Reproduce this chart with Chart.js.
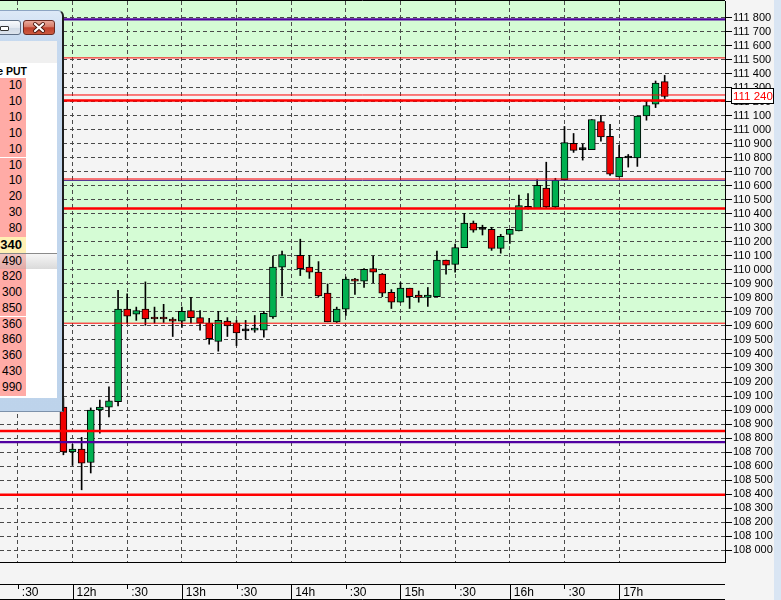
<!DOCTYPE html>
<html><head><meta charset="utf-8">
<script src="https://cdn.jsdelivr.net/npm/chart.js@4.4.0/dist/chart.umd.min.js"></script>
<style>
html,body{margin:0;padding:0;background:#f4f4f4;overflow:hidden;}
#wrap{position:relative;width:781px;height:600px;}
#c{position:absolute;left:0;top:0;}
#scroll{position:absolute;left:774px;top:0;width:7px;height:600px;background:#d9e5f3;}
#panel{position:absolute;left:0;top:0;width:64px;height:412px;font-family:'Liberation Sans',Arial,sans-serif;}
#frame{position:absolute;left:0;top:10px;width:62px;height:400px;background:linear-gradient(#dde9f7,#c6d9ef 30px,#bdd3eb);border-right:2px solid #1e1e1e;border-top:1px solid #8da5c3;border-bottom:1px solid #7d91aa;border-top-right-radius:6px;}
#minbtn{position:absolute;left:-12px;top:20px;width:31px;height:13px;border:1px solid #5f6f85;border-radius:3px;background:linear-gradient(#f8fafc,#e3e9f1 50%,#cfd9e5 51%,#dde4ed);}
#minicon{position:absolute;left:11px;top:5px;width:7px;height:3px;border:1px solid #333;border-radius:1px;background:#fff;}
#closebtn{position:absolute;left:23px;top:20px;width:30px;height:13px;border:1px solid #6b2a20;border-radius:3px;background:linear-gradient(#eaa99b 0%,#d67b68 45%,#bf3f2b 52%,#cc5a40 100%);}
#closebtn svg{position:absolute;left:0;top:0;}
#client{position:absolute;left:0;top:41px;width:57px;height:357px;background:#fff;overflow:hidden;}
#band{position:absolute;left:0;top:0;width:57px;height:22px;background:#f0f0f0;}
#hdr{position:absolute;left:-30px;top:23px;width:57px;height:14px;text-align:right;font-weight:bold;font-size:10.5px;line-height:14px;color:#000;white-space:nowrap;}
#hdrline{position:absolute;left:0;top:37px;width:26px;height:1px;background:#f2a6a2;}
.row{position:absolute;left:0;width:57px;}
.cell{position:absolute;left:0;top:0;width:22px;padding-right:4px;height:100%;background:#ffaba6;text-align:right;font-size:12px;color:#000;}
</style>
</head><body>
<div id="wrap">
<canvas id="c" width="781" height="600"></canvas>
<div id="panel">
  <div id="frame"></div>
  <div id="minbtn"><div id="minicon"></div></div>
  <div id="closebtn"><svg width="30" height="13"><g stroke-linecap="round"><line x1="11" y1="3" x2="19" y2="10" stroke="#4a1810" stroke-width="4"/><line x1="19" y1="3" x2="11" y2="10" stroke="#4a1810" stroke-width="4"/><line x1="11" y1="3" x2="19" y2="10" stroke="#fff" stroke-width="2.2"/><line x1="19" y1="3" x2="11" y2="10" stroke="#fff" stroke-width="2.2"/></g></svg></div>
  <div id="client"><div id="band"></div><div id="hdr">e PUT</div><div id="hdrline"></div><div id="rows"></div></div>
</div>
<div id="scroll"></div>
</div>
<script>
// ---- candle data (time in minutes since midnight, 5-minute bars) ----
const times  = [715,720,725,730,735,740,745,750,755,760,765,770,775,780,785,790,795,800,805,810,815,820,825,830,835,
                845,850,855,860,865,870,875,880,885,890,895,900,905,910,915,920,925,930,935,940,945,950,955,960,
                965,970,975,980,985,990,995,1000,1005,1010,1015,1020,1025,1030,1035,1040,1045];
const opens  = [109020,108700,108720,108625,109000,109020,109060,109720,109685,109720,109660,109660,109650,109635,109710,109660,109620,109490,109635,109620,109565,109570,109570,109665,110020,
                110105,110020,109985,109835,109630,109720,109935,109920,110010,109970,109840,109770,109870,109820,109805,109810,110070,110040,110160,110335,110290,110290,110155,110255,
                110280,110455,110440,110585,110450,110645,110905,110860,110860,111060,110955,110665,110800,110800,111100,111185,111345];
const highs  = [109085,108755,108805,109015,109070,109165,109855,109830,109735,109915,109735,109755,109660,109735,109805,109710,109655,109705,109660,109640,109640,109675,109705,110100,110135,
                110220,110105,110060,109900,109735,109950,109940,110010,110100,109975,109860,109910,109870,109850,109875,110135,110070,110185,110405,110350,110320,110305,110255,110290,
                110535,110545,110645,110770,110655,111025,110975,110900,111075,111105,111040,110890,110825,111100,111205,111350,111390];
const lows   = [108680,108605,108430,108550,108835,108950,109030,109620,109640,109605,109620,109625,109525,109590,109620,109570,109470,109420,109525,109460,109505,109555,109520,109655,109815,
                109960,109940,109810,109630,109625,109675,109825,109875,109910,109810,109725,109770,109725,109770,109740,109810,109970,109985,110160,110270,110250,110140,110120,110190,
                110280,110435,110440,110440,110440,110640,110840,110785,110860,110920,110675,110665,110735,110740,111070,111160,111225];
const closes = [108700,108720,108620,109000,109020,109065,109720,109670,109710,109650,109650,109650,109635,109705,109660,109620,109510,109640,109600,109550,109565,109585,109690,110020,110110,
                110010,109985,109815,109630,109720,109935,109920,110005,109985,109835,109770,109870,109810,109805,109820,110070,110035,110160,110335,110285,110290,110155,110240,110290,
                110460,110440,110605,110450,110640,110910,110855,110860,111075,110950,110685,110805,110800,111100,111175,111335,111240];
const lastPrice = 111240;

// ---- horizontal levels ----
const purpleLevels    = [111790, 108770];
const thinPurpleLevels= [110640];
const thinRedLevels   = [111515, 111250, 110650, 109620];
const thickRedLevels  = [111210, 110440, 108850, 108395];
// green zones: [upper, lower]
const zoneUpper = [111925, 110640];
const zoneLower = [111515, 109620];

// ---- axis ticks ----
const priceTicks = [108000,108100,108200,108300,108400,108500,108600,108700,108800,108900,
                    109000,109100,109200,109300,109400,109500,109600,109700,109800,109900,
                    110000,110100,110200,110300,110400,110500,110600,110700,110800,110900,
                    111000,111100,111200,111300,111400,111500,111600,111700,111800];
const timeTicks  = [690,720,750,780,810,840,870,900,930,960,990,1020];
const timeLabels = [':30','12h',':30','13h',':30','14h',':30','15h',':30','16h',':30','17h'];

// ---- side panel (PUT column) ----
const putValues = ['10','10','10','10','10','10','10','20','30','80','340','490','820','300','850','360','860','360','430','990'];

// ---- ranges ----
const X_MIN = 680.2, X_MAX = 1078.1;
const Y_MIN = 107914.3, Y_MAX = 111921.4;

// build panel rows
(function(){
  const host = document.getElementById('rows');
  putValues.forEach((v,i)=>{
    const r = document.createElement('div'); r.className='row';
    r.style.top = (37 + i*15.9) + 'px'; r.style.height = '15.9px';
    const c = document.createElement('div'); c.className='cell'; c.textContent = v;
    c.style.lineHeight = '15.9px';
    if (i === 10) { c.style.background = '#fff0b4'; c.style.fontWeight='bold'; c.style.fontSize='13px'; }
    if (i === 11) {
      r.style.background = 'linear-gradient(#f6f6f6,#dadada)';
      r.style.borderTop = '1px solid #8a8a8a'; r.style.height='14.9px';
      c.style.background = 'linear-gradient(#f2c6c2,#e0aaa6)'; c.style.lineHeight='14.9px';
    }
    r.appendChild(c); host.appendChild(r);
  });
})();

const fmt = v => String(v).replace(/\B(?=(\d{3})+(?!\d))/g,' ');
const AXFONT = "'Liberation Sans', Arial, sans-serif";
const FONT = {family:AXFONT, size:12};
const YFONT = {family:AXFONT, size:11};

function levelSet(vals, color, width){
  return vals.map(v => ({type:'line', data:[{x:X_MIN,y:v},{x:X_MAX,y:v}], borderColor:color, borderWidth:width,
    pointRadius:0, fill:false, order:0}));
}

const decor = {
  id:'decor',
  beforeDraw(chart){
    const {ctx, chartArea:a, scales:{y}} = chart;
    ctx.save();
    ctx.fillStyle='#f4f4f4'; ctx.fillRect(0,0,chart.width,chart.height);
    ctx.fillStyle='#d5fcd5';
    zoneUpper.forEach((u,i)=>{
      const y1 = Math.max(a.top, y.getPixelForValue(u));
      const y2 = y.getPixelForValue(zoneLower[i]);
      ctx.fillRect(a.left, y1, a.right-a.left, y2-y1);
    });
    ctx.restore();
  },
  afterDraw(chart){
    const {ctx, chartArea:a, scales:{x,y}} = chart;
    ctx.save();
    ctx.strokeStyle='#000'; ctx.lineWidth=1;
    ctx.beginPath();
    ctx.moveTo(0, 0.5); ctx.lineTo(a.right, 0.5);
    ctx.moveTo(0, 584.5); ctx.lineTo(a.right, 584.5);
    ctx.moveTo(0, 599.5); ctx.lineTo(a.right, 599.5);
    timeTicks.forEach((t,i)=>{
      const px = Math.round(x.getPixelForValue(t)) + 0.5;
      const full = timeLabels[i].endsWith('h');
      ctx.moveTo(px, 584.5); ctx.lineTo(px, full ? 600 : 589);
    });
    ctx.stroke();
    // current price box
    const py = Math.round(y.getPixelForValue(lastPrice));
    ctx.fillStyle='#fff';
    ctx.fillRect(731.5, py-7.5, 42, 15);
    ctx.strokeRect(731.5, py-7.5, 42, 15);
    ctx.fillStyle='#f00'; ctx.font="11.5px " + AXFONT;
    ctx.textBaseline='middle'; ctx.textAlign='left';
    ctx.fillText(fmt(lastPrice), 733, py+0.5);
    ctx.restore();
  }
};

const bodyColor = ctx => {
  const r = ctx.raw; if (!r || !r.y) return '#00b050';
  return r.y[1] > r.y[0] ? '#00b050' : (r.y[1] < r.y[0] ? '#f00000' : '#000');
};

new Chart(document.getElementById('c'), {
  type:'bar',
  data:{ datasets:[
    ...levelSet(thinRedLevels, '#ff0000', 1),
    ...levelSet(thinPurpleLevels, '#40208a', 1),
    ...levelSet(thickRedLevels, '#ff0000', 2.5),
    ...levelSet(purpleLevels, '#5000a0', 2.2),
    {type:'bar', label:'body', data: times.map((t,i)=>({x:t, y:[opens[i], closes[i]]})),
      backgroundColor: bodyColor, borderColor:'#000', borderWidth:1, borderSkipped:false,
      grouped:false, categoryPercentage:1, barPercentage:1, maxBarThickness:7, minBarLength:2, order:1},
    {type:'bar', label:'wick', data: times.map((t,i)=>({x:t, y:[lows[i], highs[i]]})),
      backgroundColor:'#000', borderWidth:0, grouped:false, categoryPercentage:1, barPercentage:1,
      maxBarThickness:1, order:2}
  ]},
  options:{
    responsive:false, animation:false, devicePixelRatio:1,
    layout:{padding:{top:1,left:0,right:0,bottom:0}},
    plugins:{legend:{display:false}, tooltip:{enabled:false}},
    scales:{
      x:{type:'linear', min:X_MIN, max:X_MAX, bounds:'data', offset:false,
        grid:{offset:false, color:'#4a4a4a', lineWidth:1, drawTicks:false},
        border:{display:true, color:'#000', width:1, dash:[4,3]},
        ticks:{autoSkip:false, maxRotation:0, minRotation:0, align:'start', labelOffset:4, padding:23, color:'#000', font:FONT,
          callback:(v)=>{const i=timeTicks.indexOf(v); return i>=0 ? timeLabels[i] : '';}},
        afterBuildTicks:s=>{ s.ticks = timeTicks.map(v=>({value:v})); },
        afterFit:s=>{ s.height=38; s.paddingLeft=0; s.paddingRight=0; }
      },
      y:{type:'linear', position:'right', min:Y_MIN, max:Y_MAX, bounds:'data',
        grid:{color:'#4a4a4a', lineWidth:1, tickColor:'#000', tickLength:7, tickBorderDash:[]},
        border:{display:true, color:'#000', width:1, dash:[4,3]},
        ticks:{autoSkip:false, padding:1, color:'#000', font:YFONT, callback:v=>fmt(v)},
        afterBuildTicks:s=>{ s.ticks = priceTicks.map(v=>({value:v})); },
        afterFit:s=>{ s.width=56; s.paddingTop=0; s.paddingBottom=0; }
      }
    }
  },
  plugins:[decor]
});
</script>
</body></html>
